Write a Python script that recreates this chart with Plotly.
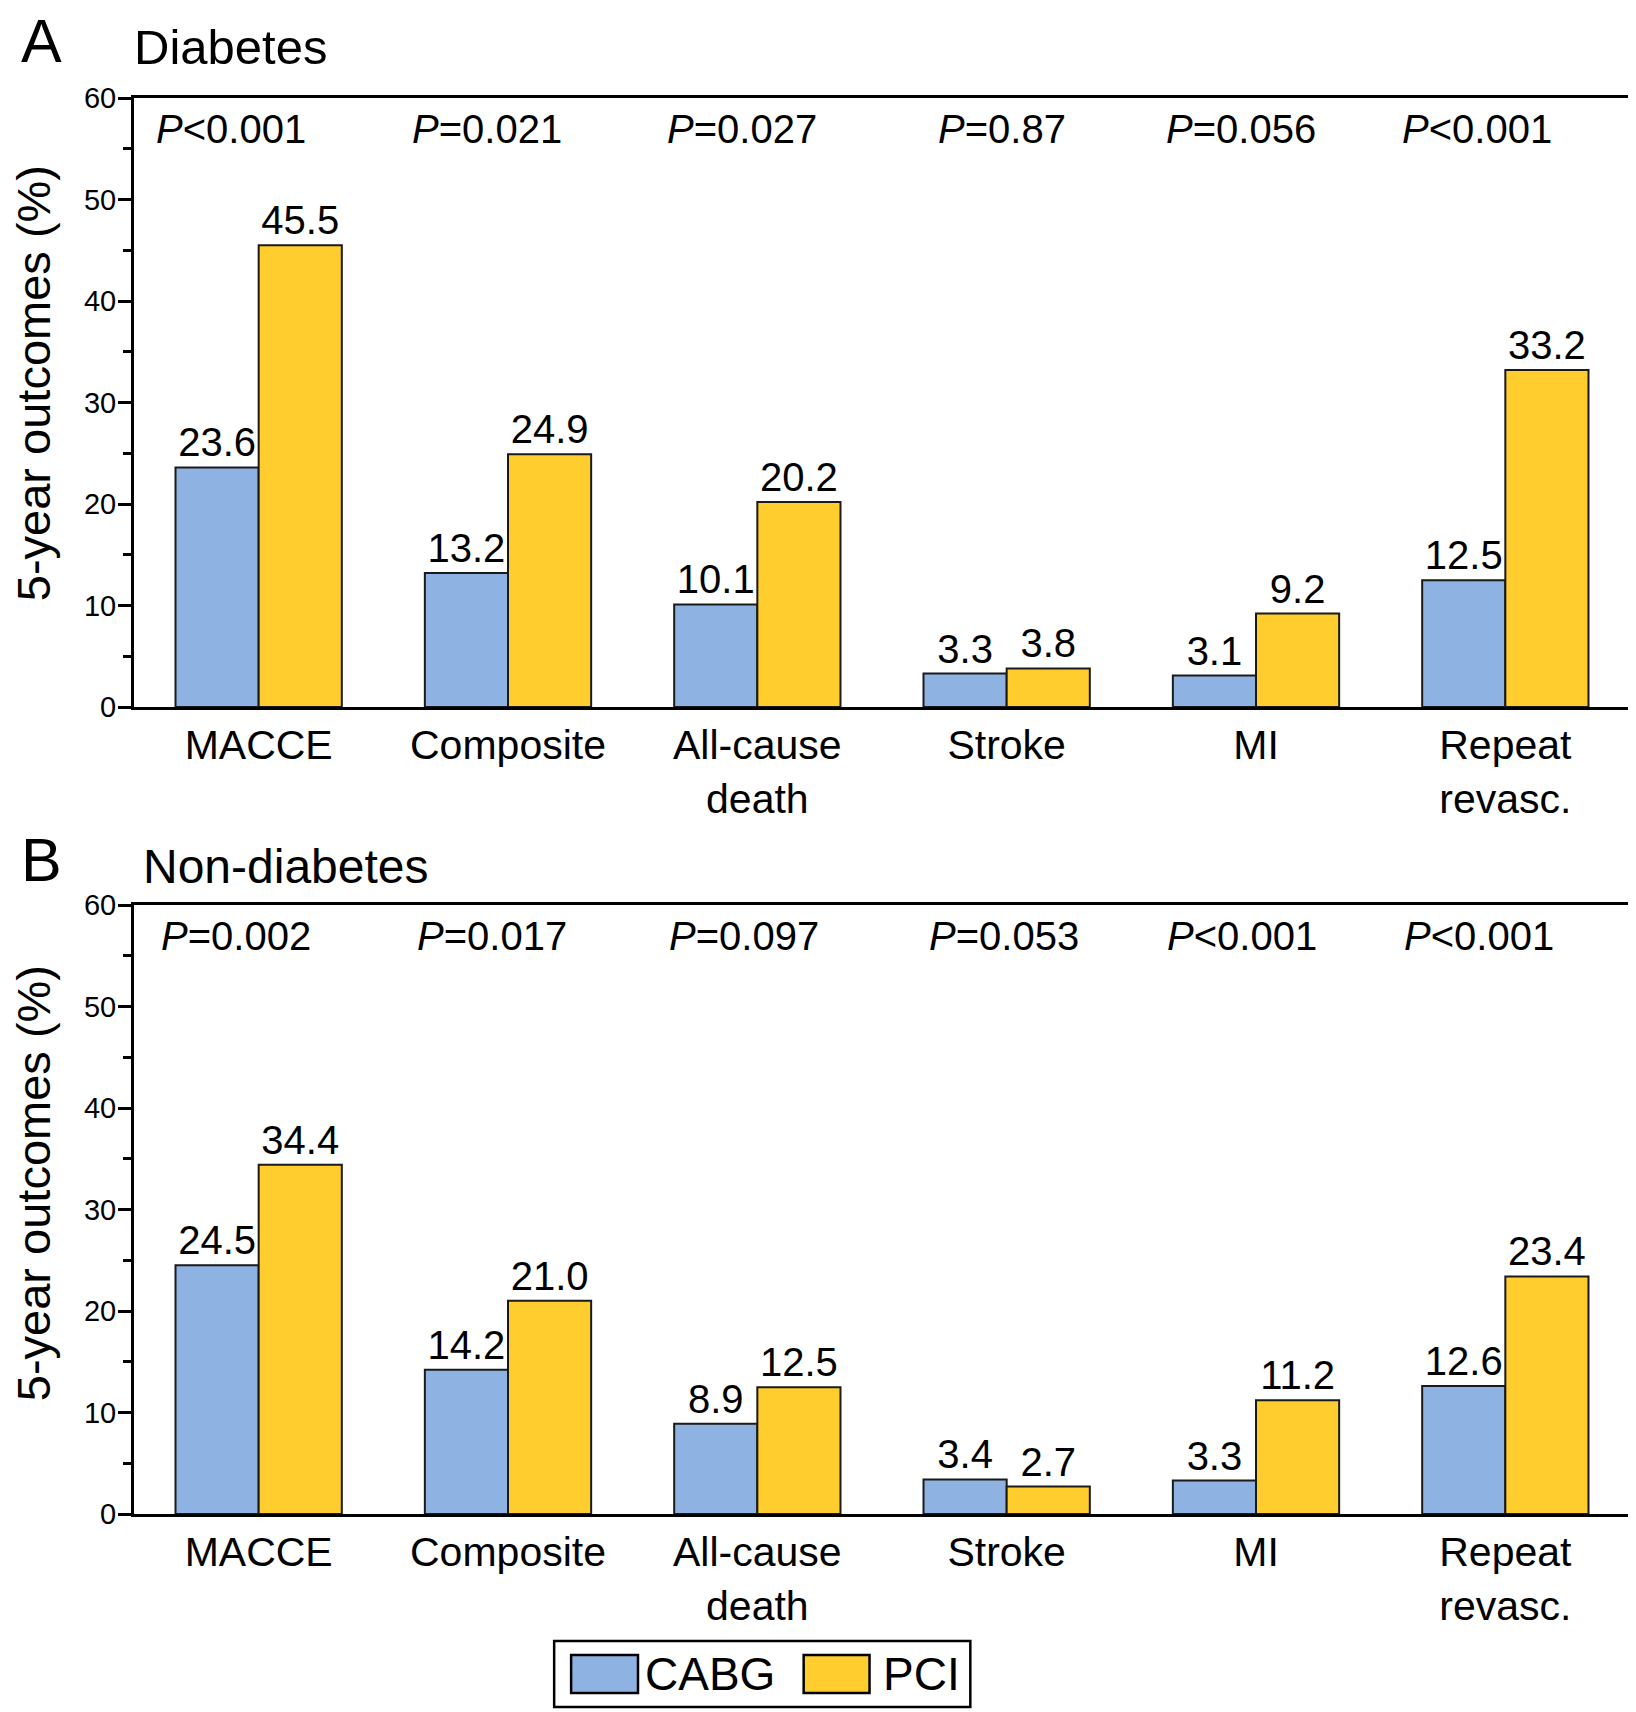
import plotly.graph_objects as go

# ---------------- data ----------------
categories = ["MACCE", "Composite", "All-cause<br>death", "Stroke", "MI", "Repeat<br>revasc."]

diab_cabg = [23.6, 13.2, 10.1, 3.3, 3.1, 12.5]
diab_pci = [45.5, 24.9, 20.2, 3.8, 9.2, 33.2]
diab_p = ["<0.001", "=0.021", "=0.027", "=0.87", "=0.056", "<0.001"]

nondiab_cabg = [24.5, 14.2, 8.9, 3.4, 3.3, 12.6]
nondiab_pci = [34.4, 21.0, 12.5, 2.7, 11.2, 23.4]
nondiab_p = ["=0.002", "=0.017", "=0.097", "=0.053", "<0.001", "<0.001"]

series_names = ["CABG", "PCI"]
y_ticks = [0, 10, 20, 30, 40, 50, 60]

# ---------------- style ----------------
OFF = 8                      # page body margin of the browser
W, H = 1628, 1704
ML, MR, MT, MB = 126, 3, 90, 198
PW, PH = W - ML - MR, H - MT - MB
FONT = "Liberation Sans, Arial, Helvetica, sans-serif"
C_CABG = "#8EB3E2"
C_PCI = "#FFCD2E"
EDGE = "#1a1a1a"
P_XSHIFT_A = [-28, -21, -15, -5, -15, -28]
P_XSHIFT_B = [-23, -16, -13, -3, -14, -26]


def px_x(px):
    return (px - OFF - ML) / PW


def px_y(py):
    return (H - MB - (py - OFF)) / PH


fig = go.Figure()

panels = [
    ("x", "y", diab_cabg, diab_pci, diab_p, P_XSHIFT_A),
    ("x2", "y2", nondiab_cabg, nondiab_pci, nondiab_p, P_XSHIFT_B),
]

for xa, ya, cabg, pci, pvals, shifts in panels:
    for name, vals, col in ((series_names[0], cabg, C_CABG), (series_names[1], pci, C_PCI)):
        fig.add_trace(go.Bar(
            x=categories, y=vals, name=name, xaxis=xa, yaxis=ya,
            marker=dict(color=col, line=dict(color=EDGE, width=2)),
            texttemplate="%{y:.1f}", textposition="outside",
            textfont=dict(size=40, color="black", family=FONT),
            cliponaxis=False, showlegend=False,
        ))
    for cat, p, sh in zip(categories, pvals, shifts):
        fig.add_annotation(
            x=cat, xref=xa, y=0.949, yref=f"{ya} domain",
            text="<i>P</i>" + p.replace("<", "&lt;"),
            showarrow=False, xshift=sh, yanchor="middle",
            font=dict(size=40, color="black", family=FONT),
        )

axis_common = dict(showline=True, linewidth=3, linecolor="black", mirror=True,
                   showgrid=False, zeroline=False)
yaxis_common = dict(
    axis_common, range=[0, 60], tickvals=y_ticks, ticks="outside", ticklen=13,
    tickwidth=3, tickcolor="black", tickfont=dict(size=29, color="black", family=FONT),
    ticklabelstandoff=-4,
    minor=dict(dtick=5, ticks="outside", ticklen=8, tickwidth=3, tickcolor="black"),
)
xaxis_common = dict(axis_common, ticks="", tickfont=dict(size=41, color="black", family=FONT),
                    range=[-0.5, 5.5])

dom_a = [px_y(707), 1.0]
dom_b = [0.0, px_y(905)]

fig.update_layout(
    width=W, height=H,
    margin=dict(l=ML, r=MR, t=MT, b=MB),
    paper_bgcolor="white", plot_bgcolor="white",
    font=dict(family=FONT, color="black"),
    barmode="group", bargap=0.333, bargroupgap=0,
    showlegend=False,
    xaxis=dict(xaxis_common, anchor="y"),
    yaxis=dict(yaxis_common, domain=dom_a, anchor="x"),
    xaxis2=dict(xaxis_common, anchor="y2"),
    yaxis2=dict(yaxis_common, domain=dom_b, anchor="x2"),
)

# y-axis titles
for yc in (383, 1183):
    fig.add_annotation(x=px_x(33), y=px_y(yc), xref="paper", yref="paper",
                       text="5-year outcomes (%)", textangle=-90, showarrow=False,
                       xanchor="center", yanchor="middle",
                       font=dict(size=47, color="black", family=FONT))

# panel letters and titles
for txt, xl, yc, size in (("A", 20, 41, 61), ("Diabetes", 133, 47, 49),
                          ("B", 20, 860, 61), ("Non-diabetes", 142, 866, 48)):
    fig.add_annotation(x=px_x(xl), y=px_y(yc), xref="paper", yref="paper",
                       text=txt, showarrow=False, xanchor="left", yanchor="middle",
                       borderpad=0, font=dict(size=size, color="black", family=FONT))

# custom legend (large swatches as in the reference)
fig.add_shape(type="rect", xref="paper", yref="paper",
              x0=px_x(555), x1=px_x(972), y0=px_y(1707), y1=px_y(1641),
              line=dict(color="black", width=2.5), fillcolor="white", layer="above")
for name, col, sx0, sx1, tx in ((series_names[0], C_CABG, 572, 639, 645),
                                (series_names[1], C_PCI, 805, 871, 883)):
    fig.add_shape(type="rect", xref="paper", yref="paper",
                  x0=px_x(sx0), x1=px_x(sx1), y0=px_y(1693), y1=px_y(1655),
                  line=dict(color="black", width=2.5), fillcolor=col, layer="above")
    fig.add_annotation(x=px_x(tx), y=px_y(1674), xref="paper", yref="paper",
                       text=name, showarrow=False, xanchor="left", yanchor="middle",
                       borderpad=0, font=dict(size=46, color="black", family=FONT))

fig.write_html("out.html")
